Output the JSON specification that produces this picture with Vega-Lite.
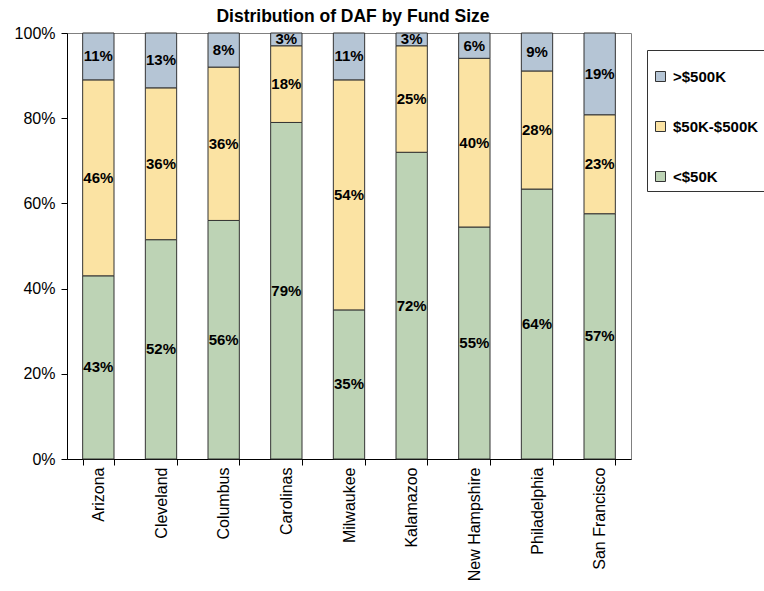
{
  "$schema": "https://vega.github.io/schema/vega-lite/v6.json",
  "width": 564,
  "height": 426,
  "autosize": {"type": "none"},
  "padding": {"left": 67, "top": 33, "right": 133, "bottom": 132},
  "background": "white",
  "title": {
    "text": "Distribution of DAF by Fund Size",
    "font": "Liberation Sans",
    "fontSize": 17.5,
    "fontWeight": "bold",
    "color": "black",
    "anchor": "middle",
    "dx": 4,
    "offset": 0
  },
  "data": {
    "values": [
      {"city": "Arizona", "size": "<$50K", "rank": 1, "pct": 43},
      {"city": "Arizona", "size": "$50K-$500K", "rank": 2, "pct": 46},
      {"city": "Arizona", "size": ">$500K", "rank": 3, "pct": 11},
      {"city": "Cleveland", "size": "<$50K", "rank": 1, "pct": 52},
      {"city": "Cleveland", "size": "$50K-$500K", "rank": 2, "pct": 36},
      {"city": "Cleveland", "size": ">$500K", "rank": 3, "pct": 13},
      {"city": "Columbus", "size": "<$50K", "rank": 1, "pct": 56},
      {"city": "Columbus", "size": "$50K-$500K", "rank": 2, "pct": 36},
      {"city": "Columbus", "size": ">$500K", "rank": 3, "pct": 8},
      {"city": "Carolinas", "size": "<$50K", "rank": 1, "pct": 79},
      {"city": "Carolinas", "size": "$50K-$500K", "rank": 2, "pct": 18},
      {"city": "Carolinas", "size": ">$500K", "rank": 3, "pct": 3},
      {"city": "Milwaukee", "size": "<$50K", "rank": 1, "pct": 35},
      {"city": "Milwaukee", "size": "$50K-$500K", "rank": 2, "pct": 54},
      {"city": "Milwaukee", "size": ">$500K", "rank": 3, "pct": 11},
      {"city": "Kalamazoo", "size": "<$50K", "rank": 1, "pct": 72},
      {"city": "Kalamazoo", "size": "$50K-$500K", "rank": 2, "pct": 25},
      {"city": "Kalamazoo", "size": ">$500K", "rank": 3, "pct": 3},
      {"city": "New Hampshire", "size": "<$50K", "rank": 1, "pct": 55},
      {"city": "New Hampshire", "size": "$50K-$500K", "rank": 2, "pct": 40},
      {"city": "New Hampshire", "size": ">$500K", "rank": 3, "pct": 6},
      {"city": "Philadelphia", "size": "<$50K", "rank": 1, "pct": 64},
      {"city": "Philadelphia", "size": "$50K-$500K", "rank": 2, "pct": 28},
      {"city": "Philadelphia", "size": ">$500K", "rank": 3, "pct": 9},
      {"city": "San Francisco", "size": "<$50K", "rank": 1, "pct": 57},
      {"city": "San Francisco", "size": "$50K-$500K", "rank": 2, "pct": 23},
      {"city": "San Francisco", "size": ">$500K", "rank": 3, "pct": 19}
    ]
  },
  "transform": [
    {
      "stack": "pct",
      "groupby": ["city"],
      "sort": [{"field": "rank", "order": "ascending"}],
      "offset": "normalize",
      "as": ["lo", "hi"]
    }
  ],
  "encoding": {
    "x": {
      "field": "city",
      "type": "nominal",
      "sort": null,
      "title": null,
      "scale": {"paddingInner": 0.5, "paddingOuter": 0.25},
      "axis": {
        "labelAngle": 270,
        "labelFont": "Liberation Sans",
        "labelFontSize": 16,
        "labelColor": "black",
        "labelPadding": 2,
        "tickBand": "extent",
        "tickSize": 6,
        "tickColor": "black",
        "domainColor": "black",
        "domainWidth": 1
      }
    }
  },
  "layer": [
    {
      "mark": {"type": "bar", "stroke": "#333333", "strokeWidth": 1, "opacity": 1},
      "encoding": {
        "y": {
          "field": "hi",
          "type": "quantitative",
          "title": null,
          "scale": {"domain": [0, 1], "nice": false},
          "axis": {
            "values": [0, 0.2, 0.4, 0.6, 0.8, 1],
            "format": ".0%",
            "grid": false,
            "labelFont": "Liberation Sans",
            "labelFontSize": 16,
            "labelColor": "black",
            "labelPadding": 6,
            "tickSize": 6,
            "tickColor": "black",
            "domainColor": "black",
            "domainWidth": 1
          }
        },
        "y2": {"field": "lo"},
        "color": {
          "field": "size",
          "type": "nominal",
          "scale": {
            "domain": [">$500K", "$50K-$500K", "<$50K"],
            "range": ["#b5c5d5", "#fbe3a3", "#bdd3b5"]
          },
          "legend": {
            "title": " ",
            "titleFontSize": 10,
            "titlePadding": 3,
            "orient": "none",
            "legendX": 580,
            "legendY": 17,
            "direction": "vertical",
            "padding": 6,
            "rowPadding": 34,
            "strokeColor": "#333333",
            "fillColor": "white",
            "symbolType": "square",
            "symbolSize": 100,
            "symbolStrokeColor": "#333333",
            "symbolStrokeWidth": 1,
            "symbolOpacity": 1,
            "labelFont": "Liberation Sans",
            "labelFontSize": 15,
            "labelFontWeight": "bold",
            "labelColor": "black",
            "labelOffset": 5,
            "labelLimit": 200
          }
        }
      }
    },
    {
      "transform": [
        {"calculate": "(datum.lo + datum.hi) / 2", "as": "mid"},
        {"calculate": "datum.pct + '%'", "as": "label"}
      ],
      "mark": {
        "type": "text",
        "font": "Liberation Sans",
        "fontSize": 15,
        "fontWeight": "bold",
        "color": "black",
        "baseline": "middle",
        "align": "center"
      },
      "encoding": {
        "y": {"field": "mid", "type": "quantitative"},
        "text": {"field": "label", "type": "nominal"}
      }
    }
  ],
  "config": {
    "view": {"stroke": "#808080", "strokeWidth": 1}
  }
}
